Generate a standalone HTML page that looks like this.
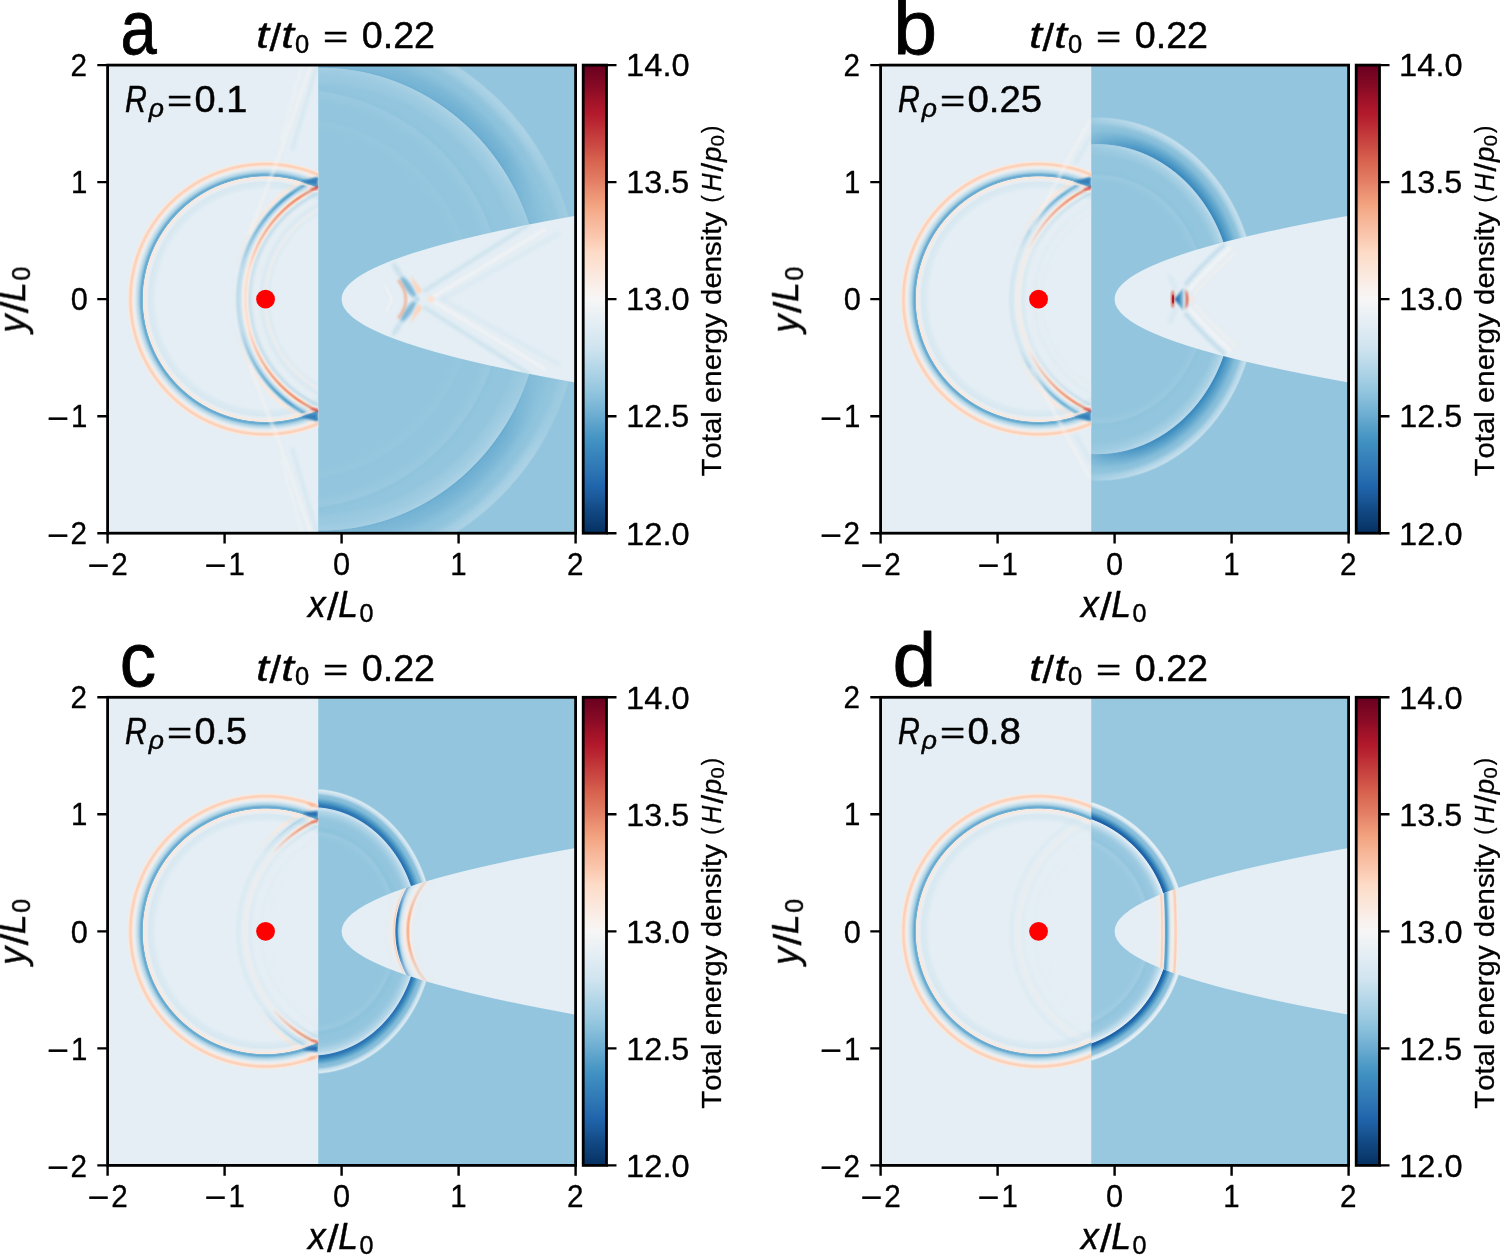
<!DOCTYPE html>
<html lang="en"><head><meta charset="utf-8"><title>Total energy density panels</title>
<style>
html,body{margin:0;padding:0;background:#fff}
body{width:1500px;height:1255px;overflow:hidden;position:relative;font-family:"Liberation Sans",sans-serif}
svg{display:block;position:absolute;left:0;top:0}
.tx{opacity:.999}
.tx text{font-family:"Liberation Sans",sans-serif;fill:#000;stroke:#000;stroke-width:0;stroke-linejoin:round;font-kerning:none;font-variant-ligatures:none}
.tk text{stroke-width:.32px}
.bg text{stroke-width:.45px}
.lt text{stroke-width:.8px}
.cb text{stroke-width:.3px}
</style></head>
<body>
<svg width="1500" height="1255" viewBox="0 0 1500 1255" shape-rendering="geometricPrecision">
<defs>
<clipPath id="cl"><rect x="107.6" y="65.1" width="210.6" height="468.1"/></clipPath>
<clipPath id="cr"><rect x="318.2" y="65.1" width="257.4" height="468.1"/></clipPath>
<clipPath id="cp"><path d="M575.6 215.85 Q107.6 299.15 575.6 382.45 Z"/></clipPath>
<clipPath id="cpx"><rect x="341" y="229.15" width="110" height="140"/></clipPath>
<filter id="b1" x="-30%" y="-30%" width="160%" height="160%"><feGaussianBlur stdDeviation="0.9"/></filter>
<filter id="b2" x="-30%" y="-30%" width="160%" height="160%"><feGaussianBlur stdDeviation="1.6"/></filter>
<filter id="b3" x="-30%" y="-30%" width="160%" height="160%"><feGaussianBlur stdDeviation="2.6"/></filter>
<linearGradient id="cbg" x1="0" y1="0" x2="0" y2="1"><stop offset="0%" stop-color="#67001f"/><stop offset="2.5%" stop-color="#790622"/><stop offset="5%" stop-color="#8a0b25"/><stop offset="7.5%" stop-color="#9f1228"/><stop offset="10%" stop-color="#b1182b"/><stop offset="12.5%" stop-color="#ba2832"/><stop offset="15%" stop-color="#c43b3c"/><stop offset="17.5%" stop-color="#cc4c44"/><stop offset="20%" stop-color="#d6604d"/><stop offset="22.5%" stop-color="#dd7059"/><stop offset="25%" stop-color="#e48066"/><stop offset="27.5%" stop-color="#ec9374"/><stop offset="30%" stop-color="#f3a481"/><stop offset="32.5%" stop-color="#f6b394"/><stop offset="35%" stop-color="#f8bfa4"/><stop offset="37.5%" stop-color="#fbccb4"/><stop offset="40%" stop-color="#fddbc7"/><stop offset="42.5%" stop-color="#fce2d2"/><stop offset="45%" stop-color="#fae9df"/><stop offset="47.5%" stop-color="#f9f0eb"/><stop offset="50%" stop-color="#f7f6f6"/><stop offset="52.5%" stop-color="#edf2f5"/><stop offset="55%" stop-color="#e4eef4"/><stop offset="57.5%" stop-color="#dae9f2"/><stop offset="60%" stop-color="#d1e5f0"/><stop offset="62.5%" stop-color="#c2ddec"/><stop offset="65%" stop-color="#b1d5e7"/><stop offset="67.5%" stop-color="#a2cde3"/><stop offset="70%" stop-color="#90c4dd"/><stop offset="72.5%" stop-color="#7eb8d7"/><stop offset="75%" stop-color="#6bacd1"/><stop offset="77.5%" stop-color="#569fc9"/><stop offset="80%" stop-color="#4393c3"/><stop offset="82.5%" stop-color="#3a87bd"/><stop offset="85%" stop-color="#327cb7"/><stop offset="87.5%" stop-color="#2a71b2"/><stop offset="90%" stop-color="#2065ab"/><stop offset="92.5%" stop-color="#1a5899"/><stop offset="95%" stop-color="#124984"/><stop offset="97.5%" stop-color="#0c3d73"/><stop offset="100%" stop-color="#053061"/></linearGradient>
<linearGradient id="mhaa" gradientUnits="userSpaceOnUse" x1="345" y1="66" x2="526" y2="219"><stop offset="0" stop-color="#999999"/><stop offset="0.3" stop-color="#d9d9d9"/><stop offset="0.5" stop-color="#ffffff"/><stop offset="0.78" stop-color="#ffffff"/><stop offset="0.93" stop-color="#999999"/><stop offset="1" stop-color="#737373"/></linearGradient>
<linearGradient id="mhab" gradientUnits="userSpaceOnUse" x1="345" y1="532.3" x2="526" y2="379.3"><stop offset="0" stop-color="#999999"/><stop offset="0.3" stop-color="#d9d9d9"/><stop offset="0.5" stop-color="#ffffff"/><stop offset="0.78" stop-color="#ffffff"/><stop offset="0.93" stop-color="#999999"/><stop offset="1" stop-color="#737373"/></linearGradient>
<mask id="mha" maskUnits="userSpaceOnUse" x="107.6" y="65.1" width="468" height="468.1"><rect x="107.6" y="65.1" width="468" height="234.05" fill="url(#mhaa)"/><rect x="107.6" y="299.15" width="468" height="234.05" fill="url(#mhab)"/></mask>
<linearGradient id="mhbg" gradientUnits="userSpaceOnUse" x1="318" y1="0" x2="576" y2="0"><stop offset="0" stop-color="#4c4c4c"/><stop offset="0.05" stop-color="#808080"/><stop offset="0.18" stop-color="#d9d9d9"/><stop offset="0.3" stop-color="#ffffff"/><stop offset="1" stop-color="#ffffff"/></linearGradient>
<mask id="mhb" maskUnits="userSpaceOnUse" x="107.6" y="65.1" width="468" height="468.1"><rect x="107.6" y="65.1" width="468" height="468.1" fill="url(#mhbg)"/></mask>
<linearGradient id="mtip0g" gradientUnits="userSpaceOnUse" x1="0" y1="174.15" x2="0" y2="424.15"><stop offset="0" stop-color="#ffffff"/><stop offset="0.1" stop-color="#ffffff"/><stop offset="0.38" stop-color="#000000"/><stop offset="0.62" stop-color="#000000"/><stop offset="0.9" stop-color="#ffffff"/><stop offset="1" stop-color="#ffffff"/></linearGradient>
<mask id="mtip0" maskUnits="userSpaceOnUse" x="107.6" y="65.1" width="468" height="468.1"><rect x="107.6" y="65.1" width="468" height="468.1" fill="url(#mtip0g)"/></mask>
<linearGradient id="mtip1g" gradientUnits="userSpaceOnUse" x1="0" y1="174.15" x2="0" y2="424.15"><stop offset="0" stop-color="#ffffff"/><stop offset="0.08" stop-color="#ffffff"/><stop offset="0.21" stop-color="#595959"/><stop offset="0.3" stop-color="#000000"/><stop offset="0.7" stop-color="#000000"/><stop offset="0.79" stop-color="#595959"/><stop offset="0.92" stop-color="#ffffff"/><stop offset="1" stop-color="#ffffff"/></linearGradient>
<mask id="mtip1" maskUnits="userSpaceOnUse" x="107.6" y="65.1" width="468" height="468.1"><rect x="107.6" y="65.1" width="468" height="468.1" fill="url(#mtip1g)"/></mask>
<linearGradient id="mtip2g" gradientUnits="userSpaceOnUse" x1="0" y1="174.15" x2="0" y2="424.15"><stop offset="0" stop-color="#ffffff"/><stop offset="0.07" stop-color="#ffffff"/><stop offset="0.13" stop-color="#666666"/><stop offset="0.19" stop-color="#000000"/><stop offset="0.81" stop-color="#000000"/><stop offset="0.87" stop-color="#666666"/><stop offset="0.93" stop-color="#ffffff"/><stop offset="1" stop-color="#ffffff"/></linearGradient>
<mask id="mtip2" maskUnits="userSpaceOnUse" x="107.6" y="65.1" width="468" height="468.1"><rect x="107.6" y="65.1" width="468" height="468.1" fill="url(#mtip2g)"/></mask>
<linearGradient id="maxcg" gradientUnits="userSpaceOnUse" x1="0" y1="249.15" x2="0" y2="349.15"><stop offset="0" stop-color="#595959"/><stop offset="0.16" stop-color="#8c8c8c"/><stop offset="0.34" stop-color="#ffffff"/><stop offset="0.5" stop-color="#ffffff"/><stop offset="0.5" stop-color="#ffffff"/><stop offset="0.66" stop-color="#ffffff"/><stop offset="0.84" stop-color="#8c8c8c"/><stop offset="1" stop-color="#595959"/></linearGradient>
<mask id="maxc" maskUnits="userSpaceOnUse" x="107.6" y="65.1" width="468" height="468.1"><rect x="107.6" y="65.1" width="468" height="468.1" fill="url(#maxcg)"/></mask>
<radialGradient id="rg1" gradientUnits="userSpaceOnUse" cx="320.7" cy="299.15" r="261.5" gradientTransform="translate(320.7 299.15) scale(1 1.05) translate(-320.7 -299.15)"><stop offset="76.9%" stop-color="#93c6de" stop-opacity="0"/><stop offset="78.81%" stop-color="#cce2ef" stop-opacity="0.11"/><stop offset="81.76%" stop-color="#cce2ef" stop-opacity="0.26"/><stop offset="83.79%" stop-color="#cce2ef" stop-opacity="0.43"/><stop offset="84.13%" stop-color="#cce2ef" stop-opacity="0.43"/><stop offset="84.44%" stop-color="#4c99c6" stop-opacity="0.63"/><stop offset="85.01%" stop-color="#4c99c6" stop-opacity="0.52"/><stop offset="88.76%" stop-color="#4c99c6" stop-opacity="0.34"/><stop offset="92.58%" stop-color="#4c99c6" stop-opacity="0.06"/><stop offset="96.41%" stop-color="#cce2ef" stop-opacity="0.26"/><stop offset="98.39%" stop-color="#cce2ef" stop-opacity="0.43"/><stop offset="99.31%" stop-color="#cce2ef" stop-opacity="0.43"/><stop offset="100%" stop-color="#93c6de" stop-opacity="0"/></radialGradient>
<radialGradient id="rg2" gradientUnits="userSpaceOnUse" cx="292.6" cy="299.15" r="222"><stop offset="88.29%" stop-color="#93c6de" stop-opacity="0"/><stop offset="92.34%" stop-color="#cce2ef" stop-opacity="0.21"/><stop offset="94.14%" stop-color="#cce2ef" stop-opacity="0.26"/><stop offset="95.05%" stop-color="#4c99c6" stop-opacity="0.13"/><stop offset="100%" stop-color="#93c6de" stop-opacity="0"/></radialGradient>
<radialGradient id="rg3" gradientUnits="userSpaceOnUse" cx="292.6" cy="299.15" r="192"><stop offset="86.46%" stop-color="#93c6de" stop-opacity="0"/><stop offset="91.67%" stop-color="#cce2ef" stop-opacity="0.15"/><stop offset="93.75%" stop-color="#cce2ef" stop-opacity="0.15"/><stop offset="94.79%" stop-color="#4c99c6" stop-opacity="0.07"/><stop offset="100%" stop-color="#93c6de" stop-opacity="0"/></radialGradient>
<radialGradient id="rg4" gradientUnits="userSpaceOnUse" cx="367.5" cy="299.15" r="133.5"><stop offset="71.16%" stop-color="#e4eef4" stop-opacity="0"/><stop offset="73.41%" stop-color="#b8d8e9" stop-opacity="0.11"/><stop offset="76.4%" stop-color="#f9ebe3" stop-opacity="0.28"/><stop offset="79.78%" stop-color="#b8d8e9" stop-opacity="0.22"/><stop offset="83.9%" stop-color="#f9ebe3" stop-opacity="0"/><stop offset="86.89%" stop-color="#b8d8e9" stop-opacity="0.33"/><stop offset="88.39%" stop-color="#b8d8e9" stop-opacity="0.56"/><stop offset="89.89%" stop-color="#f9ebe3" stop-opacity="0.44"/><stop offset="90.79%" stop-color="#fce0d0"/><stop offset="91.76%" stop-color="#fcdfcf"/><stop offset="92.73%" stop-color="#fae9df"/><stop offset="93.63%" stop-color="#f9ebe3" stop-opacity="0.39"/><stop offset="95.13%" stop-color="#b8d8e9" stop-opacity="0.56"/><stop offset="97%" stop-color="#b8d8e9" stop-opacity="0.89"/><stop offset="98.5%" stop-color="#b8d8e9" stop-opacity="0.44"/><stop offset="100%" stop-color="#e4eef4" stop-opacity="0"/></radialGradient>
<radialGradient id="rg5" gradientUnits="userSpaceOnUse" cx="367.5" cy="299.15" r="138.5"><stop offset="81.95%" stop-color="#e4eef4" stop-opacity="0"/><stop offset="84.12%" stop-color="#b8d8e9" stop-opacity="0.56"/><stop offset="86.35%" stop-color="#f9ebe3" stop-opacity="0.22"/><stop offset="87.51%" stop-color="#f6af8e"/><stop offset="88.45%" stop-color="#e8896c"/><stop offset="89.39%" stop-color="#f9c6ac"/><stop offset="90.25%" stop-color="#f9ebe3" stop-opacity="0.56"/><stop offset="91.7%" stop-color="#b8d8e9" stop-opacity="0.33"/><stop offset="93%" stop-color="#7bb6d6"/><stop offset="94.08%" stop-color="#529dc8"/><stop offset="95.31%" stop-color="#9dcbe1"/><stop offset="96.61%" stop-color="#f9ebe3" stop-opacity="0.56"/><stop offset="97.69%" stop-color="#fbe4d6"/><stop offset="98.7%" stop-color="#f9ebe3" stop-opacity="0.78"/><stop offset="100%" stop-color="#e4eef4" stop-opacity="0"/></radialGradient>
<radialGradient id="rg6" gradientUnits="userSpaceOnUse" cx="265.55" cy="299.15" r="139"><stop offset="77.7%" stop-color="#e4eef4" stop-opacity="0"/><stop offset="80.58%" stop-color="#b8d8e9" stop-opacity="0.17"/><stop offset="83.96%" stop-color="#b8d8e9" stop-opacity="0.28"/><stop offset="85.61%" stop-color="#f9ebe3" stop-opacity="0.11"/><stop offset="86.47%" stop-color="#f9ebe3" stop-opacity="0.56"/><stop offset="87.41%" stop-color="#fbe6da"/><stop offset="88.06%" stop-color="#f9ebe3" stop-opacity="0.67"/><stop offset="88.49%" stop-color="#7bb6d6"/><stop offset="89.42%" stop-color="#62a7ce"/><stop offset="91.22%" stop-color="#a7d0e4"/><stop offset="93.17%" stop-color="#b8d8e9" stop-opacity="0.39"/><stop offset="94.24%" stop-color="#f9ebe3" stop-opacity="0.28"/><stop offset="95.11%" stop-color="#f9ebe3" stop-opacity="0.56"/><stop offset="95.83%" stop-color="#fbe4d6"/><stop offset="96.62%" stop-color="#fcd3bc"/><stop offset="97.63%" stop-color="#fbd0b9"/><stop offset="98.49%" stop-color="#fbe4d6"/><stop offset="99.28%" stop-color="#f9ebe3" stop-opacity="0.56"/><stop offset="100%" stop-color="#e4eef4" stop-opacity="0"/></radialGradient>
<radialGradient id="rg7" gradientUnits="userSpaceOnUse" cx="323.9" cy="299.15" r="160.6" gradientTransform="translate(323.9 299.15) scale(1 1.14) translate(-323.9 -299.15)"><stop offset="76.4%" stop-color="#93c6de" stop-opacity="0"/><stop offset="79.51%" stop-color="#cce2ef" stop-opacity="0.16"/><stop offset="82.25%" stop-color="#cce2ef" stop-opacity="0.39"/><stop offset="83.87%" stop-color="#cce2ef" stop-opacity="0.65"/><stop offset="84.43%" stop-color="#cce2ef" stop-opacity="0.65"/><stop offset="84.93%" stop-color="#3c8abe"/><stop offset="85.87%" stop-color="#3f8ec0"/><stop offset="88.89%" stop-color="#4c99c6" stop-opacity="0.77"/><stop offset="92.54%" stop-color="#4c99c6" stop-opacity="0.18"/><stop offset="96.2%" stop-color="#cce2ef" stop-opacity="0.47"/><stop offset="98.1%" stop-color="#cce2ef" stop-opacity="0.82"/><stop offset="98.88%" stop-color="#cce2ef" stop-opacity="0.82"/><stop offset="100%" stop-color="#93c6de" stop-opacity="0"/></radialGradient>
<radialGradient id="rg8" gradientUnits="userSpaceOnUse" cx="323.9" cy="299.15" r="120" gradientTransform="translate(323.9 299.15) scale(1 1.14) translate(-323.9 -299.15)"><stop offset="83.33%" stop-color="#93c6de" stop-opacity="0"/><stop offset="90%" stop-color="#cce2ef" stop-opacity="0.21"/><stop offset="92.5%" stop-color="#4c99c6" stop-opacity="0.07"/><stop offset="100%" stop-color="#93c6de" stop-opacity="0"/></radialGradient>
<linearGradient id="btri" x1="0" y1="0" x2="1" y2="0"><stop offset="0" stop-color="#1b5a9c"/><stop offset=".45" stop-color="#3480b9"/><stop offset="1" stop-color="#90c4dd"/></linearGradient>
<radialGradient id="rg9" gradientUnits="userSpaceOnUse" cx="367.5" cy="299.15" r="133.5"><stop offset="71.16%" stop-color="#e4eef4" stop-opacity="0"/><stop offset="73.41%" stop-color="#b8d8e9" stop-opacity="0.04"/><stop offset="76.4%" stop-color="#f9ebe3" stop-opacity="0.11"/><stop offset="79.78%" stop-color="#b8d8e9" stop-opacity="0.09"/><stop offset="83.9%" stop-color="#f9ebe3" stop-opacity="0"/><stop offset="86.89%" stop-color="#b8d8e9" stop-opacity="0.13"/><stop offset="88.39%" stop-color="#b8d8e9" stop-opacity="0.22"/><stop offset="89.89%" stop-color="#f9ebe3" stop-opacity="0.18"/><stop offset="90.79%" stop-color="#f9ebe3" stop-opacity="0.58"/><stop offset="91.76%" stop-color="#f9ebe3" stop-opacity="0.6"/><stop offset="92.73%" stop-color="#f9ebe3" stop-opacity="0.44"/><stop offset="93.63%" stop-color="#f9ebe3" stop-opacity="0.16"/><stop offset="95.13%" stop-color="#b8d8e9" stop-opacity="0.22"/><stop offset="97%" stop-color="#b8d8e9" stop-opacity="0.36"/><stop offset="98.5%" stop-color="#b8d8e9" stop-opacity="0.18"/><stop offset="100%" stop-color="#e4eef4" stop-opacity="0"/></radialGradient>
<radialGradient id="rg10" gradientUnits="userSpaceOnUse" cx="367.5" cy="299.15" r="138.5"><stop offset="81.95%" stop-color="#e4eef4" stop-opacity="0"/><stop offset="84.12%" stop-color="#b8d8e9" stop-opacity="0.56"/><stop offset="86.35%" stop-color="#f9ebe3" stop-opacity="0.22"/><stop offset="87.51%" stop-color="#f6af8e"/><stop offset="88.45%" stop-color="#e8896c"/><stop offset="89.39%" stop-color="#f9c6ac"/><stop offset="90.25%" stop-color="#f9ebe3" stop-opacity="0.56"/><stop offset="91.7%" stop-color="#b8d8e9" stop-opacity="0.33"/><stop offset="93%" stop-color="#90c4dd"/><stop offset="94.08%" stop-color="#6bacd1"/><stop offset="95.31%" stop-color="#b1d5e7"/><stop offset="96.61%" stop-color="#f9ebe3" stop-opacity="0.56"/><stop offset="97.69%" stop-color="#fbe4d6"/><stop offset="98.7%" stop-color="#f9ebe3" stop-opacity="0.78"/><stop offset="100%" stop-color="#e4eef4" stop-opacity="0"/></radialGradient>
<radialGradient id="rg11" gradientUnits="userSpaceOnUse" cx="265.55" cy="299.15" r="139"><stop offset="77.7%" stop-color="#e4eef4" stop-opacity="0"/><stop offset="80.58%" stop-color="#b8d8e9" stop-opacity="0.17"/><stop offset="83.96%" stop-color="#b8d8e9" stop-opacity="0.28"/><stop offset="85.61%" stop-color="#f9ebe3" stop-opacity="0.11"/><stop offset="86.47%" stop-color="#f9ebe3" stop-opacity="0.56"/><stop offset="87.41%" stop-color="#fbe6da"/><stop offset="88.06%" stop-color="#f9ebe3" stop-opacity="0.67"/><stop offset="88.49%" stop-color="#7bb6d6"/><stop offset="89.42%" stop-color="#62a7ce"/><stop offset="91.22%" stop-color="#a7d0e4"/><stop offset="93.17%" stop-color="#b8d8e9" stop-opacity="0.39"/><stop offset="94.24%" stop-color="#f9ebe3" stop-opacity="0.28"/><stop offset="95.11%" stop-color="#f9ebe3" stop-opacity="0.56"/><stop offset="95.83%" stop-color="#fbe4d6"/><stop offset="96.62%" stop-color="#fcd3bc"/><stop offset="97.63%" stop-color="#fbd0b9"/><stop offset="98.49%" stop-color="#fbe4d6"/><stop offset="99.28%" stop-color="#f9ebe3" stop-opacity="0.56"/><stop offset="100%" stop-color="#e4eef4" stop-opacity="0"/></radialGradient>
<radialGradient id="rg12" gradientUnits="userSpaceOnUse" cx="311.2" cy="299.15" r="124" gradientTransform="translate(311.2 299.15) scale(1 1.16) translate(-311.2 -299.15)"><stop offset="76.85%" stop-color="#93c6de" stop-opacity="0"/><stop offset="80.89%" stop-color="#cce2ef" stop-opacity="0.24"/><stop offset="83.77%" stop-color="#cce2ef" stop-opacity="0.58"/><stop offset="85.32%" stop-color="#cce2ef" stop-opacity="0.96"/><stop offset="86.05%" stop-color="#cce2ef" stop-opacity="0.96"/><stop offset="86.69%" stop-color="#2b73b3"/><stop offset="87.9%" stop-color="#2e77b5"/><stop offset="89.95%" stop-color="#4997c5"/><stop offset="93.14%" stop-color="#4c99c6" stop-opacity="0.19"/><stop offset="96.32%" stop-color="#cce2ef" stop-opacity="0.78"/><stop offset="97.98%" stop-color="#d8e9f1"/><stop offset="98.55%" stop-color="#d8e9f1"/><stop offset="100%" stop-color="#93c6de" stop-opacity="0"/></radialGradient>
<radialGradient id="rg13" gradientUnits="userSpaceOnUse" cx="311.2" cy="299.15" r="96" gradientTransform="translate(311.2 299.15) scale(1 1.16) translate(-311.2 -299.15)"><stop offset="81.25%" stop-color="#93c6de" stop-opacity="0"/><stop offset="88.54%" stop-color="#cce2ef" stop-opacity="0.24"/><stop offset="91.67%" stop-color="#4c99c6" stop-opacity="0.15"/><stop offset="100%" stop-color="#93c6de" stop-opacity="0"/></radialGradient>
<radialGradient id="rg14" gradientUnits="userSpaceOnUse" cx="487" cy="299.15" r="103"><stop offset="67.96%" stop-color="#e4eef4" stop-opacity="0"/><stop offset="72.82%" stop-color="#f9ebe3" stop-opacity="0.22"/><stop offset="74.76%" stop-color="#f9ebe3" stop-opacity="0.78"/><stop offset="76.12%" stop-color="#f7b596"/><stop offset="77.28%" stop-color="#f7b596"/><stop offset="79.13%" stop-color="#fae9df"/><stop offset="81.55%" stop-color="#f9ebe3" stop-opacity="0.56"/><stop offset="83.5%" stop-color="#b8d8e9" stop-opacity="0.33"/><stop offset="85.92%" stop-color="#90c4dd"/><stop offset="87.38%" stop-color="#2e77b5"/><stop offset="88.64%" stop-color="#2e77b5"/><stop offset="89.51%" stop-color="#f9ebe3" stop-opacity="0.56"/><stop offset="90.29%" stop-color="#f9c6ac"/><stop offset="90.87%" stop-color="#fddbc7"/><stop offset="92.23%" stop-color="#f9ebe3" stop-opacity="0.56"/><stop offset="95.15%" stop-color="#f9ebe3" stop-opacity="0.22"/><stop offset="100%" stop-color="#e4eef4" stop-opacity="0"/></radialGradient>
<radialGradient id="rg15" gradientUnits="userSpaceOnUse" cx="367.5" cy="299.15" r="133.5"><stop offset="71.16%" stop-color="#e4eef4" stop-opacity="0"/><stop offset="73.41%" stop-color="#b8d8e9" stop-opacity="0.02"/><stop offset="76.4%" stop-color="#f9ebe3" stop-opacity="0.06"/><stop offset="79.78%" stop-color="#b8d8e9" stop-opacity="0.05"/><stop offset="83.9%" stop-color="#f9ebe3" stop-opacity="0"/><stop offset="86.89%" stop-color="#b8d8e9" stop-opacity="0.07"/><stop offset="88.39%" stop-color="#b8d8e9" stop-opacity="0.12"/><stop offset="89.89%" stop-color="#f9ebe3" stop-opacity="0.1"/><stop offset="90.79%" stop-color="#f9ebe3" stop-opacity="0.32"/><stop offset="91.76%" stop-color="#f9ebe3" stop-opacity="0.33"/><stop offset="92.73%" stop-color="#f9ebe3" stop-opacity="0.24"/><stop offset="93.63%" stop-color="#f9ebe3" stop-opacity="0.09"/><stop offset="95.13%" stop-color="#b8d8e9" stop-opacity="0.12"/><stop offset="97%" stop-color="#b8d8e9" stop-opacity="0.2"/><stop offset="98.5%" stop-color="#b8d8e9" stop-opacity="0.1"/><stop offset="100%" stop-color="#e4eef4" stop-opacity="0"/></radialGradient>
<radialGradient id="rg16" gradientUnits="userSpaceOnUse" cx="367.5" cy="299.15" r="138.5"><stop offset="81.95%" stop-color="#e4eef4" stop-opacity="0"/><stop offset="84.12%" stop-color="#b8d8e9" stop-opacity="0.56"/><stop offset="86.35%" stop-color="#f9ebe3" stop-opacity="0.22"/><stop offset="87.51%" stop-color="#f6af8e"/><stop offset="88.45%" stop-color="#e8896c"/><stop offset="89.39%" stop-color="#f9c6ac"/><stop offset="90.25%" stop-color="#f9ebe3" stop-opacity="0.56"/><stop offset="91.7%" stop-color="#b8d8e9" stop-opacity="0.33"/><stop offset="93%" stop-color="#b8d8e9" stop-opacity="0.67"/><stop offset="94.08%" stop-color="#acd2e5"/><stop offset="95.31%" stop-color="#b8d8e9" stop-opacity="0.11"/><stop offset="96.61%" stop-color="#f9ebe3" stop-opacity="0.56"/><stop offset="97.69%" stop-color="#fbe4d6"/><stop offset="98.7%" stop-color="#f9ebe3" stop-opacity="0.78"/><stop offset="100%" stop-color="#e4eef4" stop-opacity="0"/></radialGradient>
<radialGradient id="rg17" gradientUnits="userSpaceOnUse" cx="265.55" cy="299.15" r="139"><stop offset="77.7%" stop-color="#e4eef4" stop-opacity="0"/><stop offset="80.58%" stop-color="#b8d8e9" stop-opacity="0.17"/><stop offset="83.96%" stop-color="#b8d8e9" stop-opacity="0.28"/><stop offset="85.61%" stop-color="#f9ebe3" stop-opacity="0.11"/><stop offset="86.47%" stop-color="#f9ebe3" stop-opacity="0.56"/><stop offset="87.41%" stop-color="#fbe6da"/><stop offset="88.06%" stop-color="#f9ebe3" stop-opacity="0.67"/><stop offset="88.49%" stop-color="#7bb6d6"/><stop offset="89.42%" stop-color="#62a7ce"/><stop offset="91.22%" stop-color="#a7d0e4"/><stop offset="93.17%" stop-color="#b8d8e9" stop-opacity="0.39"/><stop offset="94.24%" stop-color="#f9ebe3" stop-opacity="0.28"/><stop offset="95.11%" stop-color="#f9ebe3" stop-opacity="0.56"/><stop offset="95.83%" stop-color="#fbe4d6"/><stop offset="96.62%" stop-color="#fcd3bc"/><stop offset="97.63%" stop-color="#fbd0b9"/><stop offset="98.49%" stop-color="#fbe4d6"/><stop offset="99.28%" stop-color="#f9ebe3" stop-opacity="0.56"/><stop offset="100%" stop-color="#e4eef4" stop-opacity="0"/></radialGradient>
<radialGradient id="rg18" gradientUnits="userSpaceOnUse" cx="277" cy="299.15" r="136.9"><stop offset="78.67%" stop-color="#98c8e0" stop-opacity="0"/><stop offset="82.32%" stop-color="#d1e5f0" stop-opacity="0.36"/><stop offset="84.93%" stop-color="#d1e5f0" stop-opacity="0.88"/><stop offset="86.34%" stop-color="#e0ecf3"/><stop offset="87%" stop-color="#e0ecf3"/><stop offset="87.58%" stop-color="#1e61a5"/><stop offset="88.68%" stop-color="#2065ab"/><stop offset="90.64%" stop-color="#3f8ec0"/><stop offset="93.62%" stop-color="#4f9bc7" stop-opacity="0.24"/><stop offset="96.6%" stop-color="#d1e5f0" stop-opacity="0.98"/><stop offset="98.14%" stop-color="#e6eff4"/><stop offset="98.69%" stop-color="#e6eff4"/><stop offset="100%" stop-color="#98c8e0" stop-opacity="0"/></radialGradient>
<radialGradient id="rg19" gradientUnits="userSpaceOnUse" cx="277" cy="299.15" r="110"><stop offset="83.64%" stop-color="#98c8e0" stop-opacity="0"/><stop offset="90%" stop-color="#d1e5f0" stop-opacity="0.24"/><stop offset="92.73%" stop-color="#4f9bc7" stop-opacity="0.15"/><stop offset="100%" stop-color="#98c8e0" stop-opacity="0"/></radialGradient>
<radialGradient id="rg20" gradientUnits="userSpaceOnUse" cx="-207" cy="299.15" r="615"><stop offset="95.61%" stop-color="#e4eef4" stop-opacity="0"/><stop offset="96.1%" stop-color="#f9ebe3" stop-opacity="0.22"/><stop offset="96.68%" stop-color="#f9ebe3" stop-opacity="0.56"/><stop offset="96.88%" stop-color="#fbd0b9"/><stop offset="97.07%" stop-color="#fddbc7"/><stop offset="97.27%" stop-color="#f9ebe3" stop-opacity="0.56"/><stop offset="97.46%" stop-color="#62a7ce"/><stop offset="97.66%" stop-color="#529dc8"/><stop offset="98.05%" stop-color="#acd2e5"/><stop offset="98.46%" stop-color="#f9ebe3" stop-opacity="0.33"/><stop offset="98.78%" stop-color="#f9ebe3" stop-opacity="0.78"/><stop offset="99.02%" stop-color="#fbd0b9"/><stop offset="99.24%" stop-color="#fbd0b9"/><stop offset="99.45%" stop-color="#f9ebe3" stop-opacity="0.56"/><stop offset="100%" stop-color="#e4eef4" stop-opacity="0"/></radialGradient>
<radialGradient id="rg21" gradientUnits="userSpaceOnUse" cx="367.5" cy="299.15" r="133.5"><stop offset="71.16%" stop-color="#e4eef4" stop-opacity="0"/><stop offset="73.41%" stop-color="#b8d8e9" stop-opacity="0.02"/><stop offset="76.4%" stop-color="#f9ebe3" stop-opacity="0.04"/><stop offset="79.78%" stop-color="#b8d8e9" stop-opacity="0.03"/><stop offset="83.9%" stop-color="#f9ebe3" stop-opacity="0"/><stop offset="86.89%" stop-color="#b8d8e9" stop-opacity="0.05"/><stop offset="88.39%" stop-color="#b8d8e9" stop-opacity="0.08"/><stop offset="89.89%" stop-color="#f9ebe3" stop-opacity="0.06"/><stop offset="90.79%" stop-color="#f9ebe3" stop-opacity="0.2"/><stop offset="91.76%" stop-color="#f9ebe3" stop-opacity="0.21"/><stop offset="92.73%" stop-color="#f9ebe3" stop-opacity="0.16"/><stop offset="93.63%" stop-color="#f9ebe3" stop-opacity="0.05"/><stop offset="95.13%" stop-color="#b8d8e9" stop-opacity="0.08"/><stop offset="97%" stop-color="#b8d8e9" stop-opacity="0.12"/><stop offset="98.5%" stop-color="#b8d8e9" stop-opacity="0.06"/><stop offset="100%" stop-color="#e4eef4" stop-opacity="0"/></radialGradient>
<radialGradient id="rg22" gradientUnits="userSpaceOnUse" cx="265.55" cy="299.15" r="139"><stop offset="77.7%" stop-color="#e4eef4" stop-opacity="0"/><stop offset="80.58%" stop-color="#b8d8e9" stop-opacity="0.17"/><stop offset="83.96%" stop-color="#b8d8e9" stop-opacity="0.28"/><stop offset="85.61%" stop-color="#f9ebe3" stop-opacity="0.11"/><stop offset="86.47%" stop-color="#f9ebe3" stop-opacity="0.56"/><stop offset="87.41%" stop-color="#fbe6da"/><stop offset="88.06%" stop-color="#f9ebe3" stop-opacity="0.67"/><stop offset="88.49%" stop-color="#7bb6d6"/><stop offset="89.42%" stop-color="#62a7ce"/><stop offset="91.22%" stop-color="#a7d0e4"/><stop offset="93.17%" stop-color="#b8d8e9" stop-opacity="0.39"/><stop offset="94.24%" stop-color="#f9ebe3" stop-opacity="0.28"/><stop offset="95.11%" stop-color="#f9ebe3" stop-opacity="0.56"/><stop offset="95.83%" stop-color="#fbe4d6"/><stop offset="96.62%" stop-color="#fcd3bc"/><stop offset="97.63%" stop-color="#fbd0b9"/><stop offset="98.49%" stop-color="#fbe4d6"/><stop offset="99.28%" stop-color="#f9ebe3" stop-opacity="0.56"/><stop offset="100%" stop-color="#e4eef4" stop-opacity="0"/></radialGradient>
</defs>
<g transform="translate(0 0)">
<rect x="107.6" y="65.1" width="211.1" height="468.1" fill="#e4eef4"/>
<rect x="318.2" y="65.1" width="257.4" height="468.1" fill="#93c6de"/>
<g clip-path="url(#cr)"><ellipse cx="320.7" cy="299.15" rx="261.5" ry="274.68" fill="url(#rg1)" mask="url(#mha)"/></g>
<g clip-path="url(#cr)"><circle cx="292.6" cy="299.15" r="222" fill="url(#rg2)" opacity="0.38"/></g>
<g clip-path="url(#cr)"><circle cx="292.6" cy="299.15" r="192" fill="url(#rg3)" opacity="0.22"/></g>
<path d="M575.6 215.85 Q107.6 299.15 575.6 382.45 Z" fill="#e4eef4"/>
<g clip-path="url(#cp)"><path d="M423.5 291.55 L529 224.35" stroke="#c7e0ed" stroke-width="3.6" fill="none" opacity=".8" filter="url(#b2)"/><path d="M432 297.65 L546 228.65" stroke="#f7f5f4" stroke-width="3.2" fill="none" opacity=".75" filter="url(#b2)"/><path d="M441 300.15 L560 233.15" stroke="#d1e5f0" stroke-width="3.2" fill="none" opacity=".5" filter="url(#b2)"/><ellipse cx="0" cy="0" rx="12.5" ry="3.6" transform="translate(408.2 286.95) rotate(55)" fill="#6eaed2" opacity=".85" filter="url(#b2)"/><ellipse cx="0" cy="0" rx="9" ry="2.6" transform="translate(397.3 270.15) rotate(57)" fill="#b8d8e9" opacity=".6" filter="url(#b2)"/><path d="M410 274.65 L422.2 290.15 L419.1 294.55 L415.8 290.65 Z" fill="#fcd5bf" filter="url(#b1)"/><path d="M423.5 306.75 L529 373.95" stroke="#c7e0ed" stroke-width="3.6" fill="none" opacity=".8" filter="url(#b2)"/><path d="M432 300.65 L546 369.65" stroke="#f7f5f4" stroke-width="3.2" fill="none" opacity=".75" filter="url(#b2)"/><path d="M441 298.15 L560 365.15" stroke="#d1e5f0" stroke-width="3.2" fill="none" opacity=".5" filter="url(#b2)"/><ellipse cx="0" cy="0" rx="12.5" ry="3.6" transform="translate(408.2 311.35) rotate(-55)" fill="#6eaed2" opacity=".85" filter="url(#b2)"/><ellipse cx="0" cy="0" rx="9" ry="2.6" transform="translate(397.3 328.15) rotate(-57)" fill="#b8d8e9" opacity=".6" filter="url(#b2)"/><path d="M410 323.65 L422.2 308.15 L419.1 303.75 L415.8 307.65 Z" fill="#fcd5bf" filter="url(#b1)"/><path d="M398.2 280.15 Q413.4 299.15 398.2 318.15" stroke="#f5aa89" stroke-width="2.2" fill="none" filter="url(#b1)"/><circle cx="431" cy="299.15" r="3.3" fill="#fce2d2" filter="url(#b1)"/><circle cx="416.8" cy="299.15" r="2.6" fill="#b8d8e9" opacity=".9" filter="url(#b1)"/><path d="M386 286.65 L391.8 299.15 L386 311.65" stroke="#f7f6f6" stroke-width="2.2" fill="none" opacity=".7" filter="url(#b1)"/></g>
<g clip-path="url(#cl)"><circle cx="367.5" cy="299.15" r="133.5" fill="url(#rg4)"/></g>
<g clip-path="url(#cl)"><circle cx="367.5" cy="299.15" r="138.5" fill="url(#rg5)" mask="url(#mtip0)"/></g>
<g clip-path="url(#cl)"><circle cx="265.55" cy="299.15" r="139" fill="url(#rg6)"/></g>
<g clip-path="url(#cl)"><path d="M300.5 181.3 L317.6 177 L317.6 185.3 L309 184 Z" fill="#3480b9" filter="url(#b1)"/><path d="M309 189.5 L317.8 186 L317.8 189.5 Z" fill="#bf3338" filter="url(#b1)"/><path d="M300.5 417 L317.6 421.3 L317.6 413 L309 414.3 Z" fill="#3480b9" filter="url(#b1)"/><path d="M309 408.8 L317.8 412.3 L317.8 408.8 Z" fill="#bf3338" filter="url(#b1)"/><path d="M312 62 L277.5 160 L249 234" stroke="#f8f4f2" stroke-width="3.2" fill="none" opacity=".6" filter="url(#b2)"/><path d="M303 62 L281 140" stroke="#f7f6f6" stroke-width="3" fill="none" opacity=".45" filter="url(#b2)"/><path d="M317 66 L292 150" stroke="#c5dfec" stroke-width="3" fill="none" opacity=".45" filter="url(#b2)"/><path d="M312 536.3 L277.5 438.3 L249 364.3" stroke="#f8f4f2" stroke-width="3.2" fill="none" opacity=".6" filter="url(#b2)"/><path d="M303 536.3 L281 458.3" stroke="#f7f6f6" stroke-width="3" fill="none" opacity=".45" filter="url(#b2)"/><path d="M317 532.3 L292 448.3" stroke="#c5dfec" stroke-width="3" fill="none" opacity=".45" filter="url(#b2)"/></g>
<circle cx="265.55" cy="299.15" r="9.4" fill="#ff0000"/>
<rect x="107.6" y="65.1" width="468" height="468.1" fill="none" stroke="#000" stroke-width="2.8"/><path d="M107.6 533.2 v10.3 M107.6 65.1 h-10.3 M606.5 65.1 h10 M224.6 533.2 v10.3 M107.6 182.12 h-10.3 M606.5 182.12 h10 M341.6 533.2 v10.3 M107.6 299.15 h-10.3 M606.5 299.15 h10 M458.6 533.2 v10.3 M107.6 416.18 h-10.3 M606.5 416.18 h10 M575.6 533.2 v10.3 M107.6 533.2 h-10.3 M606.5 533.2 h10" stroke="#000" stroke-width="2.4" fill="none"/><rect x="583.2" y="65.1" width="23.3" height="468.1" fill="url(#cbg)" stroke="#000" stroke-width="2.8"/>
<g class="tx"><g class="tk"><text transform="translate(87.34 576.28) scale(1.212 1)" font-size="31.01">−</text><text transform="translate(111.19 575) scale(0.9559 1)" font-size="31.01">2</text></g><g class="tk"><text transform="translate(204.34 576.28) scale(1.212 1)" font-size="31.01">−</text><text transform="translate(228.51 575) scale(0.9471 1)" font-size="31.01">1</text></g><g class="tk"><text transform="translate(333.04 575) scale(0.9917 1)" font-size="31.01">0</text></g><g class="tk"><text transform="translate(450.29 575) scale(0.9471 1)" font-size="31.01">1</text></g><g class="tk"><text transform="translate(566.97 575) scale(0.9559 1)" font-size="31.01">2</text></g><g class="tk"><text transform="translate(70.59 76.25) scale(0.9559 1)" font-size="31.01">2</text></g><g class="tk"><text transform="translate(70.91 193.28) scale(0.9471 1)" font-size="31.01">1</text></g><g class="tk"><text transform="translate(70.66 310.3) scale(0.9917 1)" font-size="31.01">0</text></g><g class="tk"><text transform="translate(46.74 428.6) scale(1.212 1)" font-size="31.01">−</text><text transform="translate(70.91 427.33) scale(0.9471 1)" font-size="31.01">1</text></g><g class="tk"><text transform="translate(46.74 545.63) scale(1.212 1)" font-size="31.01">−</text><text transform="translate(70.59 544.35) scale(0.9559 1)" font-size="31.01">2</text></g><g class="tk"><text transform="translate(626.12 76.4) scale(1.053 1)" font-size="31.01">14.0</text></g><g class="tk"><text transform="translate(626.14 193.43) scale(1.044 1)" font-size="31.01">13.5</text></g><g class="tk"><text transform="translate(626.12 310.45) scale(1.053 1)" font-size="31.01">13.0</text></g><g class="tk"><text transform="translate(626.14 427.48) scale(1.044 1)" font-size="31.01">12.5</text></g><g class="tk"><text transform="translate(626.12 544.5) scale(1.053 1)" font-size="31.01">12.0</text></g><g class="bg"><text transform="translate(256.13 48.3) scale(1.246 1)" font-size="36.67" font-style="italic">t</text><text transform="translate(269.6 51.12) scale(1.138 1.052)" font-size="36.67">/</text><text transform="translate(281.13 48.3) scale(1.246 1)" font-size="36.67" font-style="italic">t</text><text transform="translate(295 53) scale(0.9942 1)" font-size="25.67">0 </text><text transform="translate(323.09 47.44) scale(1.179 0.8239)" font-size="36.67">= </text><text transform="translate(361.73 48.3) scale(1.028 1)" font-size="36.67">0.22</text></g><g class="lt"><text transform="translate(120.38 53.9) scale(0.8564 1)" font-size="76.12">a</text></g><g class="bg"><text transform="translate(125.07 111.5) scale(0.8255 1)" font-size="36.67" font-style="italic">R</text><text transform="translate(148.65 116.5) scale(1.032 1)" font-size="25.67" font-style="italic">ρ</text><text transform="translate(166.89 110.64) scale(1.179 0.8239)" font-size="36.67">=</text><text transform="translate(194.52 111.5) scale(1.035 1)" font-size="36.67">0.1</text></g><g class="bg"><text transform="translate(307.91 617) scale(0.9579 1)" font-size="36.67" font-style="italic">x</text><text transform="translate(326.9 619.82) scale(1.138 1.052)" font-size="36.67">/</text><text transform="translate(338.31 617) scale(0.9696 1)" font-size="36.67" font-style="italic">L</text><text transform="translate(359.52 621.7) scale(0.9779 1)" font-size="25.67">0</text></g><g class="bg" transform="translate(25.1 334.6) rotate(-90)"><text transform="translate(2.03 0) scale(0.9749 1)" font-size="36.67" font-style="italic">y</text><text transform="translate(21.4 2.82) scale(1.138 1.052)" font-size="36.67">/</text><text transform="translate(32.81 0) scale(0.9696 1)" font-size="36.67" font-style="italic">L</text><text transform="translate(54.02 4.7) scale(0.9779 1)" font-size="25.67">0</text></g><g class="cb" transform="translate(720.65 476.85) rotate(-90)"><text transform="translate(0.3 0) scale(1.092 1)" font-size="26.93">Total energy density </text><text transform="translate(274.32 -1.69) scale(0.8071 0.913)" font-size="26.93">(</text><text transform="translate(285.53 0) scale(0.9083 1)" font-size="27.19" font-family="Liberation Serif" font-style="italic">H</text><text transform="translate(305.44 2.1) scale(1.163 1.065)" font-size="26.93">/</text><text transform="translate(314.85 0) scale(1.035 1)" font-size="26.93" font-style="italic">p</text><text transform="translate(330.59 3.5) scale(1.053 1)" font-size="19.09">0</text><text transform="translate(343.73 -1.69) scale(0.8071 0.913)" font-size="26.93">)</text></g></g>
</g>
<g transform="translate(773 0)">
<rect x="107.6" y="65.1" width="211.1" height="468.1" fill="#e4eef4"/>
<rect x="318.2" y="65.1" width="257.4" height="468.1" fill="#93c6de"/>
<g clip-path="url(#cr)"><ellipse cx="323.9" cy="299.15" rx="160.6" ry="182.76" fill="url(#rg7)" mask="url(#mhb)"/></g>
<g clip-path="url(#cr)"><ellipse cx="323.9" cy="299.15" rx="120" ry="136.56" fill="url(#rg8)" opacity="0.6"/></g>
<path d="M575.6 215.85 Q107.6 299.15 575.6 382.45 Z" fill="#e4eef4"/>
<g clip-path="url(#cp)"><path d="M412 285.15 Q430 263.15 452 244.15" stroke="#b8d8e9" stroke-width="3.4" fill="none" opacity=".8" filter="url(#b2)"/><path d="M416 290.15 Q436 267.15 458 247.15" stroke="#f7f6f6" stroke-width="3.4" fill="none" opacity=".8" filter="url(#b2)"/><path d="M421 294.15 Q441 271.15 464 251.15" stroke="#f8f1ed" stroke-width="3" fill="none" opacity=".6" filter="url(#b2)"/><path d="M403 289.15 L396 275.15" stroke="#d1e5f0" stroke-width="4" fill="none" opacity=".6" filter="url(#b2)"/><path d="M412 313.15 Q430 335.15 452 354.15" stroke="#b8d8e9" stroke-width="3.4" fill="none" opacity=".8" filter="url(#b2)"/><path d="M416 308.15 Q436 331.15 458 351.15" stroke="#f7f6f6" stroke-width="3.4" fill="none" opacity=".8" filter="url(#b2)"/><path d="M421 304.15 Q441 327.15 464 347.15" stroke="#f8f1ed" stroke-width="3" fill="none" opacity=".6" filter="url(#b2)"/><path d="M403 309.15 L396 323.15" stroke="#d1e5f0" stroke-width="4" fill="none" opacity=".6" filter="url(#b2)"/><path d="M401.6 299.15 L410.3 287.65 L410.3 310.65 Z" fill="url(#btri)" filter="url(#b1)"/><ellipse cx="399.8" cy="299.15" rx="1.6" ry="9" fill="#d6604d" filter="url(#b1)"/><ellipse cx="400" cy="299.15" rx="1.1" ry="4.5" fill="#b1182b"/><path d="M412.2 288.65 Q419.5 299.15 412.2 309.65 Q413.4 299.15 412.2 288.65 Z" fill="#d6604d" filter="url(#b1)"/><path d="M416 293.15 L422 299.15 L416 305.15 Z" fill="#fbe4d6" opacity=".7" filter="url(#b1)"/></g>
<g clip-path="url(#cl)"><circle cx="367.5" cy="299.15" r="133.5" fill="url(#rg9)"/></g>
<g clip-path="url(#cl)"><circle cx="367.5" cy="299.15" r="138.5" fill="url(#rg10)" mask="url(#mtip1)"/></g>
<g clip-path="url(#cl)"><circle cx="265.55" cy="299.15" r="139" fill="url(#rg11)"/></g>
<g clip-path="url(#cl)"><path d="M300.5 181.3 L317.6 177 L317.6 185.3 L309 184 Z" fill="#3480b9" filter="url(#b1)"/><path d="M309 189.5 L317.8 186 L317.8 189.5 Z" fill="#bf3338" filter="url(#b1)"/><path d="M300.5 417 L317.6 421.3 L317.6 413 L309 414.3 Z" fill="#3480b9" filter="url(#b1)"/><path d="M309 408.8 L317.8 412.3 L317.8 408.8 Z" fill="#bf3338" filter="url(#b1)"/><path d="M317 120 L295 160 L258 230" stroke="#f8f4f2" stroke-width="3.2" fill="none" opacity=".6" filter="url(#b2)"/><path d="M318 136 L302 164" stroke="#c5dfec" stroke-width="3" fill="none" opacity=".4" filter="url(#b2)"/><path d="M317 478.3 L295 438.3 L258 368.3" stroke="#f8f4f2" stroke-width="3.2" fill="none" opacity=".6" filter="url(#b2)"/><path d="M318 462.3 L302 434.3" stroke="#c5dfec" stroke-width="3" fill="none" opacity=".4" filter="url(#b2)"/></g>
<circle cx="265.55" cy="299.15" r="9.4" fill="#ff0000"/>
<rect x="107.6" y="65.1" width="468" height="468.1" fill="none" stroke="#000" stroke-width="2.8"/><path d="M107.6 533.2 v10.3 M107.6 65.1 h-10.3 M606.5 65.1 h10 M224.6 533.2 v10.3 M107.6 182.12 h-10.3 M606.5 182.12 h10 M341.6 533.2 v10.3 M107.6 299.15 h-10.3 M606.5 299.15 h10 M458.6 533.2 v10.3 M107.6 416.18 h-10.3 M606.5 416.18 h10 M575.6 533.2 v10.3 M107.6 533.2 h-10.3 M606.5 533.2 h10" stroke="#000" stroke-width="2.4" fill="none"/><rect x="583.2" y="65.1" width="23.3" height="468.1" fill="url(#cbg)" stroke="#000" stroke-width="2.8"/>
<g class="tx"><g class="tk"><text transform="translate(87.34 576.28) scale(1.212 1)" font-size="31.01">−</text><text transform="translate(111.19 575) scale(0.9559 1)" font-size="31.01">2</text></g><g class="tk"><text transform="translate(204.34 576.28) scale(1.212 1)" font-size="31.01">−</text><text transform="translate(228.51 575) scale(0.9471 1)" font-size="31.01">1</text></g><g class="tk"><text transform="translate(333.04 575) scale(0.9917 1)" font-size="31.01">0</text></g><g class="tk"><text transform="translate(450.29 575) scale(0.9471 1)" font-size="31.01">1</text></g><g class="tk"><text transform="translate(566.97 575) scale(0.9559 1)" font-size="31.01">2</text></g><g class="tk"><text transform="translate(70.59 76.25) scale(0.9559 1)" font-size="31.01">2</text></g><g class="tk"><text transform="translate(70.91 193.28) scale(0.9471 1)" font-size="31.01">1</text></g><g class="tk"><text transform="translate(70.66 310.3) scale(0.9917 1)" font-size="31.01">0</text></g><g class="tk"><text transform="translate(46.74 428.6) scale(1.212 1)" font-size="31.01">−</text><text transform="translate(70.91 427.33) scale(0.9471 1)" font-size="31.01">1</text></g><g class="tk"><text transform="translate(46.74 545.63) scale(1.212 1)" font-size="31.01">−</text><text transform="translate(70.59 544.35) scale(0.9559 1)" font-size="31.01">2</text></g><g class="tk"><text transform="translate(626.12 76.4) scale(1.053 1)" font-size="31.01">14.0</text></g><g class="tk"><text transform="translate(626.14 193.43) scale(1.044 1)" font-size="31.01">13.5</text></g><g class="tk"><text transform="translate(626.12 310.45) scale(1.053 1)" font-size="31.01">13.0</text></g><g class="tk"><text transform="translate(626.14 427.48) scale(1.044 1)" font-size="31.01">12.5</text></g><g class="tk"><text transform="translate(626.12 544.5) scale(1.053 1)" font-size="31.01">12.0</text></g><g class="bg"><text transform="translate(256.13 48.3) scale(1.246 1)" font-size="36.67" font-style="italic">t</text><text transform="translate(269.6 51.12) scale(1.138 1.052)" font-size="36.67">/</text><text transform="translate(281.13 48.3) scale(1.246 1)" font-size="36.67" font-style="italic">t</text><text transform="translate(295 53) scale(0.9942 1)" font-size="25.67">0 </text><text transform="translate(323.09 47.44) scale(1.179 0.8239)" font-size="36.67">= </text><text transform="translate(361.73 48.3) scale(1.028 1)" font-size="36.67">0.22</text></g><g class="lt"><text transform="translate(120.3 53.9) scale(1.036 1)" font-size="76.12">b</text></g><g class="bg"><text transform="translate(125.07 111.5) scale(0.8255 1)" font-size="36.67" font-style="italic">R</text><text transform="translate(148.65 116.5) scale(1.032 1)" font-size="25.67" font-style="italic">ρ</text><text transform="translate(166.89 110.64) scale(1.179 0.8239)" font-size="36.67">=</text><text transform="translate(194.5 111.5) scale(1.046 1)" font-size="36.67">0.25</text></g><g class="bg"><text transform="translate(307.91 617) scale(0.9579 1)" font-size="36.67" font-style="italic">x</text><text transform="translate(326.9 619.82) scale(1.138 1.052)" font-size="36.67">/</text><text transform="translate(338.31 617) scale(0.9696 1)" font-size="36.67" font-style="italic">L</text><text transform="translate(359.52 621.7) scale(0.9779 1)" font-size="25.67">0</text></g><g class="bg" transform="translate(25.1 334.6) rotate(-90)"><text transform="translate(2.03 0) scale(0.9749 1)" font-size="36.67" font-style="italic">y</text><text transform="translate(21.4 2.82) scale(1.138 1.052)" font-size="36.67">/</text><text transform="translate(32.81 0) scale(0.9696 1)" font-size="36.67" font-style="italic">L</text><text transform="translate(54.02 4.7) scale(0.9779 1)" font-size="25.67">0</text></g><g class="cb" transform="translate(720.65 476.85) rotate(-90)"><text transform="translate(0.3 0) scale(1.092 1)" font-size="26.93">Total energy density </text><text transform="translate(274.32 -1.69) scale(0.8071 0.913)" font-size="26.93">(</text><text transform="translate(285.53 0) scale(0.9083 1)" font-size="27.19" font-family="Liberation Serif" font-style="italic">H</text><text transform="translate(305.44 2.1) scale(1.163 1.065)" font-size="26.93">/</text><text transform="translate(314.85 0) scale(1.035 1)" font-size="26.93" font-style="italic">p</text><text transform="translate(330.59 3.5) scale(1.053 1)" font-size="19.09">0</text><text transform="translate(343.73 -1.69) scale(0.8071 0.913)" font-size="26.93">)</text></g></g>
</g>
<g transform="translate(0 632.2)">
<rect x="107.6" y="65.1" width="211.1" height="468.1" fill="#e4eef4"/>
<rect x="318.2" y="65.1" width="257.4" height="468.1" fill="#93c6de"/>
<g clip-path="url(#cr)"><ellipse cx="311.2" cy="299.15" rx="124" ry="143.22" fill="url(#rg12)"/></g>
<g clip-path="url(#cr)"><ellipse cx="311.2" cy="299.15" rx="96" ry="110.88" fill="url(#rg13)" opacity="0.5"/></g>
<path d="M575.6 215.85 Q107.6 299.15 575.6 382.45 Z" fill="#e4eef4"/>
<g clip-path="url(#cp)"><g clip-path="url(#cpx)"><circle cx="487" cy="299.15" r="103" fill="url(#rg14)" mask="url(#maxc)"/></g></g>
<g clip-path="url(#cl)"><circle cx="367.5" cy="299.15" r="133.5" fill="url(#rg15)"/></g>
<g clip-path="url(#cl)"><circle cx="367.5" cy="299.15" r="138.5" fill="url(#rg16)" mask="url(#mtip2)"/></g>
<g clip-path="url(#cl)"><circle cx="265.55" cy="299.15" r="139" fill="url(#rg17)"/></g>
<g clip-path="url(#cl)"><path d="M302 180.6 L317.8 178.8 L317.8 185 L309 183.8 Z" fill="#276eb0" filter="url(#b1)"/><path d="M310 190.3 L317.8 186.8 L317.8 189.8 Z" fill="#cf5246" filter="url(#b1)"/><path d="M306 169.8 L317.5 172.8 L312 174.3 Z" fill="#f6af8e" filter="url(#b1)"/><path d="M302 417.7 L317.8 419.5 L317.8 413.3 L309 414.5 Z" fill="#276eb0" filter="url(#b1)"/><path d="M310 408 L317.8 411.5 L317.8 408.5 Z" fill="#cf5246" filter="url(#b1)"/><path d="M306 428.5 L317.5 425.5 L312 424 Z" fill="#f6af8e" filter="url(#b1)"/></g>
<circle cx="265.55" cy="299.15" r="9.4" fill="#ff0000"/>
<rect x="107.6" y="65.1" width="468" height="468.1" fill="none" stroke="#000" stroke-width="2.8"/><path d="M107.6 533.2 v10.3 M107.6 65.1 h-10.3 M606.5 65.1 h10 M224.6 533.2 v10.3 M107.6 182.12 h-10.3 M606.5 182.12 h10 M341.6 533.2 v10.3 M107.6 299.15 h-10.3 M606.5 299.15 h10 M458.6 533.2 v10.3 M107.6 416.18 h-10.3 M606.5 416.18 h10 M575.6 533.2 v10.3 M107.6 533.2 h-10.3 M606.5 533.2 h10" stroke="#000" stroke-width="2.4" fill="none"/><rect x="583.2" y="65.1" width="23.3" height="468.1" fill="url(#cbg)" stroke="#000" stroke-width="2.8"/>
<g class="tx"><g class="tk"><text transform="translate(87.34 576.28) scale(1.212 1)" font-size="31.01">−</text><text transform="translate(111.19 575) scale(0.9559 1)" font-size="31.01">2</text></g><g class="tk"><text transform="translate(204.34 576.28) scale(1.212 1)" font-size="31.01">−</text><text transform="translate(228.51 575) scale(0.9471 1)" font-size="31.01">1</text></g><g class="tk"><text transform="translate(333.04 575) scale(0.9917 1)" font-size="31.01">0</text></g><g class="tk"><text transform="translate(450.29 575) scale(0.9471 1)" font-size="31.01">1</text></g><g class="tk"><text transform="translate(566.97 575) scale(0.9559 1)" font-size="31.01">2</text></g><g class="tk"><text transform="translate(70.59 76.25) scale(0.9559 1)" font-size="31.01">2</text></g><g class="tk"><text transform="translate(70.91 193.28) scale(0.9471 1)" font-size="31.01">1</text></g><g class="tk"><text transform="translate(70.66 310.3) scale(0.9917 1)" font-size="31.01">0</text></g><g class="tk"><text transform="translate(46.74 428.6) scale(1.212 1)" font-size="31.01">−</text><text transform="translate(70.91 427.33) scale(0.9471 1)" font-size="31.01">1</text></g><g class="tk"><text transform="translate(46.74 545.63) scale(1.212 1)" font-size="31.01">−</text><text transform="translate(70.59 544.35) scale(0.9559 1)" font-size="31.01">2</text></g><g class="tk"><text transform="translate(626.12 76.4) scale(1.053 1)" font-size="31.01">14.0</text></g><g class="tk"><text transform="translate(626.14 193.43) scale(1.044 1)" font-size="31.01">13.5</text></g><g class="tk"><text transform="translate(626.12 310.45) scale(1.053 1)" font-size="31.01">13.0</text></g><g class="tk"><text transform="translate(626.14 427.48) scale(1.044 1)" font-size="31.01">12.5</text></g><g class="tk"><text transform="translate(626.12 544.5) scale(1.053 1)" font-size="31.01">12.0</text></g><g class="bg"><text transform="translate(256.13 48.3) scale(1.246 1)" font-size="36.67" font-style="italic">t</text><text transform="translate(269.6 51.12) scale(1.138 1.052)" font-size="36.67">/</text><text transform="translate(281.13 48.3) scale(1.246 1)" font-size="36.67" font-style="italic">t</text><text transform="translate(295 53) scale(0.9942 1)" font-size="25.67">0 </text><text transform="translate(323.09 47.44) scale(1.179 0.8239)" font-size="36.67">= </text><text transform="translate(361.73 48.3) scale(1.028 1)" font-size="36.67">0.22</text></g><g class="lt"><text transform="translate(119.71 53.9) scale(0.9556 1)" font-size="76.12">c</text></g><g class="bg"><text transform="translate(125.07 111.5) scale(0.8255 1)" font-size="36.67" font-style="italic">R</text><text transform="translate(148.65 116.5) scale(1.032 1)" font-size="25.67" font-style="italic">ρ</text><text transform="translate(166.89 110.64) scale(1.179 0.8239)" font-size="36.67">=</text><text transform="translate(194.52 111.5) scale(1.033 1)" font-size="36.67">0.5</text></g><g class="bg"><text transform="translate(307.91 617) scale(0.9579 1)" font-size="36.67" font-style="italic">x</text><text transform="translate(326.9 619.82) scale(1.138 1.052)" font-size="36.67">/</text><text transform="translate(338.31 617) scale(0.9696 1)" font-size="36.67" font-style="italic">L</text><text transform="translate(359.52 621.7) scale(0.9779 1)" font-size="25.67">0</text></g><g class="bg" transform="translate(25.1 334.6) rotate(-90)"><text transform="translate(2.03 0) scale(0.9749 1)" font-size="36.67" font-style="italic">y</text><text transform="translate(21.4 2.82) scale(1.138 1.052)" font-size="36.67">/</text><text transform="translate(32.81 0) scale(0.9696 1)" font-size="36.67" font-style="italic">L</text><text transform="translate(54.02 4.7) scale(0.9779 1)" font-size="25.67">0</text></g><g class="cb" transform="translate(720.65 476.85) rotate(-90)"><text transform="translate(0.3 0) scale(1.092 1)" font-size="26.93">Total energy density </text><text transform="translate(274.32 -1.69) scale(0.8071 0.913)" font-size="26.93">(</text><text transform="translate(285.53 0) scale(0.9083 1)" font-size="27.19" font-family="Liberation Serif" font-style="italic">H</text><text transform="translate(305.44 2.1) scale(1.163 1.065)" font-size="26.93">/</text><text transform="translate(314.85 0) scale(1.035 1)" font-size="26.93" font-style="italic">p</text><text transform="translate(330.59 3.5) scale(1.053 1)" font-size="19.09">0</text><text transform="translate(343.73 -1.69) scale(0.8071 0.913)" font-size="26.93">)</text></g></g>
</g>
<g transform="translate(773 632.2)">
<rect x="107.6" y="65.1" width="211.1" height="468.1" fill="#e4eef4"/>
<rect x="318.2" y="65.1" width="257.4" height="468.1" fill="#98c8e0"/>
<g clip-path="url(#cr)"><circle cx="277" cy="299.15" r="136.9" fill="url(#rg18)"/></g>
<g clip-path="url(#cr)"><circle cx="277" cy="299.15" r="110" fill="url(#rg19)" opacity="0.6"/></g>
<path d="M575.6 215.85 Q107.6 299.15 575.6 382.45 Z" fill="#e4eef4"/>
<g clip-path="url(#cp)"><g clip-path="url(#cp)"><circle cx="-207" cy="299.15" r="615" fill="url(#rg20)"/></g></g>
<g clip-path="url(#cl)"><circle cx="367.5" cy="299.15" r="133.5" fill="url(#rg21)"/></g>
<g clip-path="url(#cl)"><circle cx="265.55" cy="299.15" r="139" fill="url(#rg22)"/></g>
<g clip-path="url(#cl)"></g>
<circle cx="265.55" cy="299.15" r="9.4" fill="#ff0000"/>
<rect x="107.6" y="65.1" width="468" height="468.1" fill="none" stroke="#000" stroke-width="2.8"/><path d="M107.6 533.2 v10.3 M107.6 65.1 h-10.3 M606.5 65.1 h10 M224.6 533.2 v10.3 M107.6 182.12 h-10.3 M606.5 182.12 h10 M341.6 533.2 v10.3 M107.6 299.15 h-10.3 M606.5 299.15 h10 M458.6 533.2 v10.3 M107.6 416.18 h-10.3 M606.5 416.18 h10 M575.6 533.2 v10.3 M107.6 533.2 h-10.3 M606.5 533.2 h10" stroke="#000" stroke-width="2.4" fill="none"/><rect x="583.2" y="65.1" width="23.3" height="468.1" fill="url(#cbg)" stroke="#000" stroke-width="2.8"/>
<g class="tx"><g class="tk"><text transform="translate(87.34 576.28) scale(1.212 1)" font-size="31.01">−</text><text transform="translate(111.19 575) scale(0.9559 1)" font-size="31.01">2</text></g><g class="tk"><text transform="translate(204.34 576.28) scale(1.212 1)" font-size="31.01">−</text><text transform="translate(228.51 575) scale(0.9471 1)" font-size="31.01">1</text></g><g class="tk"><text transform="translate(333.04 575) scale(0.9917 1)" font-size="31.01">0</text></g><g class="tk"><text transform="translate(450.29 575) scale(0.9471 1)" font-size="31.01">1</text></g><g class="tk"><text transform="translate(566.97 575) scale(0.9559 1)" font-size="31.01">2</text></g><g class="tk"><text transform="translate(70.59 76.25) scale(0.9559 1)" font-size="31.01">2</text></g><g class="tk"><text transform="translate(70.91 193.28) scale(0.9471 1)" font-size="31.01">1</text></g><g class="tk"><text transform="translate(70.66 310.3) scale(0.9917 1)" font-size="31.01">0</text></g><g class="tk"><text transform="translate(46.74 428.6) scale(1.212 1)" font-size="31.01">−</text><text transform="translate(70.91 427.33) scale(0.9471 1)" font-size="31.01">1</text></g><g class="tk"><text transform="translate(46.74 545.63) scale(1.212 1)" font-size="31.01">−</text><text transform="translate(70.59 544.35) scale(0.9559 1)" font-size="31.01">2</text></g><g class="tk"><text transform="translate(626.12 76.4) scale(1.053 1)" font-size="31.01">14.0</text></g><g class="tk"><text transform="translate(626.14 193.43) scale(1.044 1)" font-size="31.01">13.5</text></g><g class="tk"><text transform="translate(626.12 310.45) scale(1.053 1)" font-size="31.01">13.0</text></g><g class="tk"><text transform="translate(626.14 427.48) scale(1.044 1)" font-size="31.01">12.5</text></g><g class="tk"><text transform="translate(626.12 544.5) scale(1.053 1)" font-size="31.01">12.0</text></g><g class="bg"><text transform="translate(256.13 48.3) scale(1.246 1)" font-size="36.67" font-style="italic">t</text><text transform="translate(269.6 51.12) scale(1.138 1.052)" font-size="36.67">/</text><text transform="translate(281.13 48.3) scale(1.246 1)" font-size="36.67" font-style="italic">t</text><text transform="translate(295 53) scale(0.9942 1)" font-size="25.67">0 </text><text transform="translate(323.09 47.44) scale(1.179 0.8239)" font-size="36.67">= </text><text transform="translate(361.73 48.3) scale(1.028 1)" font-size="36.67">0.22</text></g><g class="lt"><text transform="translate(119.49 53.9) scale(1.035 1)" font-size="76.12">d</text></g><g class="bg"><text transform="translate(125.07 111.5) scale(0.8255 1)" font-size="36.67" font-style="italic">R</text><text transform="translate(148.65 116.5) scale(1.032 1)" font-size="25.67" font-style="italic">ρ</text><text transform="translate(166.89 110.64) scale(1.179 0.8239)" font-size="36.67">=</text><text transform="translate(194.5 111.5) scale(1.048 1)" font-size="36.67">0.8</text></g><g class="bg"><text transform="translate(307.91 617) scale(0.9579 1)" font-size="36.67" font-style="italic">x</text><text transform="translate(326.9 619.82) scale(1.138 1.052)" font-size="36.67">/</text><text transform="translate(338.31 617) scale(0.9696 1)" font-size="36.67" font-style="italic">L</text><text transform="translate(359.52 621.7) scale(0.9779 1)" font-size="25.67">0</text></g><g class="bg" transform="translate(25.1 334.6) rotate(-90)"><text transform="translate(2.03 0) scale(0.9749 1)" font-size="36.67" font-style="italic">y</text><text transform="translate(21.4 2.82) scale(1.138 1.052)" font-size="36.67">/</text><text transform="translate(32.81 0) scale(0.9696 1)" font-size="36.67" font-style="italic">L</text><text transform="translate(54.02 4.7) scale(0.9779 1)" font-size="25.67">0</text></g><g class="cb" transform="translate(720.65 476.85) rotate(-90)"><text transform="translate(0.3 0) scale(1.092 1)" font-size="26.93">Total energy density </text><text transform="translate(274.32 -1.69) scale(0.8071 0.913)" font-size="26.93">(</text><text transform="translate(285.53 0) scale(0.9083 1)" font-size="27.19" font-family="Liberation Serif" font-style="italic">H</text><text transform="translate(305.44 2.1) scale(1.163 1.065)" font-size="26.93">/</text><text transform="translate(314.85 0) scale(1.035 1)" font-size="26.93" font-style="italic">p</text><text transform="translate(330.59 3.5) scale(1.053 1)" font-size="19.09">0</text><text transform="translate(343.73 -1.69) scale(0.8071 0.913)" font-size="26.93">)</text></g></g>
</g>
</svg>
</body></html>
